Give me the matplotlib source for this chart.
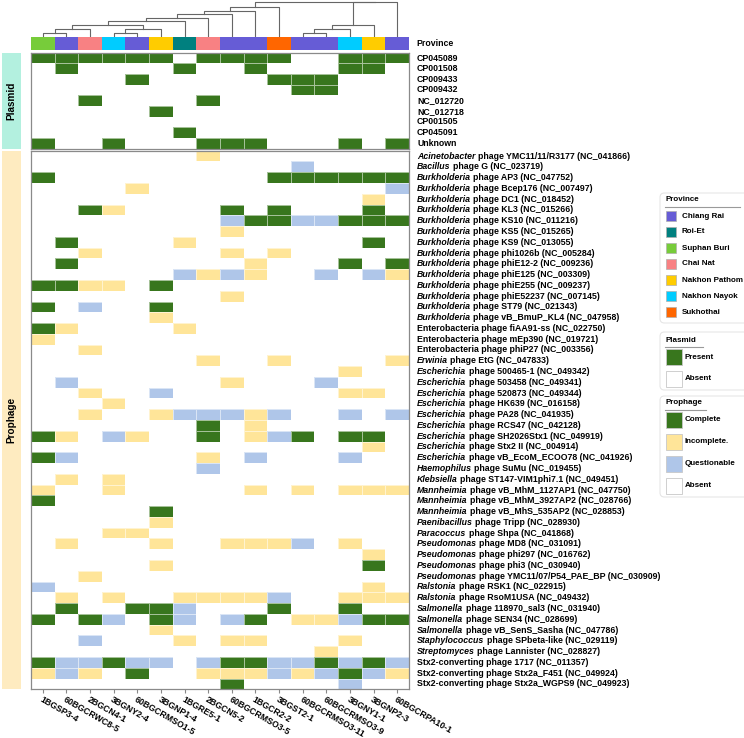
import numpy as np
import matplotlib
matplotlib.use('Agg')
import matplotlib.pyplot as plt
from matplotlib.colors import ListedColormap
from matplotlib.patches import Rectangle, FancyBboxPatch
from matplotlib.lines import Line2D

plt.rcParams['font.family'] = ['Liberation Sans', 'DejaVu Sans']
plt.rcParams['font.weight'] = 'bold'

# ---- data ----
samples = ['1BGSP3-4', '60BGCRWC8-5', '2BGCN4-1', '3BGNY2-4', '60BGCRMSO1-5',
           '3BGNP1-4', '1BGRE5-1', '2BGCN5-2', '60BGCRMSO3-5', '1BGCR2-2',
           '3BGST2-1', '60BGCRMSO3-11', '60BGCRMSO3-9', '3BGNY1-1', '3BGNP2-3',
           '60BGCRPA10-1']
sample_province = ['Suphan Buri', 'Chiang Rai', 'Chai Nat', 'Nakhon Nayok', 'Chiang Rai',
                   'Nakhon Pathom', 'Roi-Et', 'Chai Nat', 'Chiang Rai', 'Chiang Rai',
                   'Sukhothai', 'Chiang Rai', 'Chiang Rai', 'Nakhon Nayok', 'Nakhon Pathom',
                   'Chiang Rai']
province_names = ['Chiang Rai', 'Roi-Et', 'Suphan Buri', 'Chai Nat',
                  'Nakhon Pathom', 'Nakhon Nayok', 'Sukhothai']
province_colors = ['#665cd6', '#00807f', '#77cc3a', '#f88183',
                   '#ffcc00', '#00ccff', '#ff6600']

# dendrogram merges: (left node, right node, height); new nodes numbered from 16
merges = [(0, 1, 3.7), (16, 2, 7.3), (3, 4, 3.7), (18, 5, 7.3), (17, 19, 11.7),
          (20, 6, 15.3), (21, 7, 18.7), (22, 8, 22.7), (23, 9, 26.0), (24, 10, 30.0),
          (11, 12, 3.7), (26, 13, 7.3), (27, 14, 11.7), (28, 15, 34.2), (25, 29, 34.5)]

plasmid_names = ['CP045089', 'CP001508', 'CP009433', 'CP009432', 'NC_012720',
                 'NC_012718', 'CP001505', 'CP045091', 'Unknown']
# P = present, . = absent
plasmid_rows = ['PPPPPP.PPPP..PPP',
                '.P....P..P...PP.',
                '....P.....PPP...',
                '...........PP...',
                '..P....P........',
                '.....P..........',
                '................',
                '......P.........',
                'P..P...PPP...P.P']

prophage_genus = ['Acinetobacter', 'Bacillus'] + ['Burkholderia'] * 14 + [''] * 3 + \
    ['Erwinia'] + ['Escherichia'] * 9 + ['Haemophilus', 'Klebsiella'] + ['Mannheimia'] * 3 + \
    ['Paenibacillus', 'Paracoccus'] + ['Pseudomonas'] * 4 + ['Ralstonia'] * 2 + \
    ['Salmonella'] * 3 + ['Staphylococcus', 'Streptomyces'] + [''] * 3
prophage_rest = ['phage YMC11/11/R3177 (NC_041866)', 'phage G (NC_023719)',
                 'phage AP3 (NC_047752)', 'phage Bcep176 (NC_007497)', 'phage DC1 (NC_018452)',
                 'phage KL3 (NC_015266)', 'phage KS10 (NC_011216)', 'phage KS5 (NC_015265)',
                 'phage KS9 (NC_013055)', 'phage phi1026b (NC_005284)',
                 'phage phiE12-2 (NC_009236)', 'phage phiE125 (NC_003309)',
                 'phage phiE255 (NC_009237)', 'phage phiE52237 (NC_007145)',
                 'phage ST79 (NC_021343)', 'phage vB_BmuP_KL4 (NC_047958)',
                 'Enterobacteria phage fiAA91-ss (NC_022750)',
                 'Enterobacteria phage mEp390 (NC_019721)',
                 'Enterobacteria phage phiP27 (NC_003356)',
                 'phage EtG (NC_047833)', 'phage 500465-1 (NC_049342)',
                 'phage 503458 (NC_049341)', 'phage 520873 (NC_049344)',
                 'phage HK639 (NC_016158)', 'phage PA28 (NC_041935)',
                 'phage RCS47 (NC_042128)', 'phage SH2026Stx1 (NC_049919)',
                 'phage Stx2 II (NC_004914)', 'phage vB_EcoM_ECOO78 (NC_041926)',
                 'phage SuMu (NC_019455)', 'phage ST147-VIM1phi7.1 (NC_049451)',
                 'phage vB_MhM_1127AP1 (NC_047750)', 'phage vB_MhM_3927AP2 (NC_028766)',
                 'phage vB_MhS_535AP2 (NC_028853)', 'phage Tripp (NC_028930)',
                 'phage Shpa (NC_041868)', 'phage MD8 (NC_031091)',
                 'phage phi297 (NC_016762)', 'phage phi3 (NC_030940)',
                 'phage YMC11/07/P54_PAE_BP (NC_030909)', 'phage RSK1 (NC_022915)',
                 'phage RsoM1USA (NC_049432)', 'phage 118970_sal3 (NC_031940)',
                 'phage SEN34 (NC_028699)', 'phage vB_SenS_Sasha (NC_047786)',
                 'phage SPbeta-like (NC_029119)', 'phage Lannister (NC_028827)',
                 'Stx2-converting phage 1717 (NC_011357)',
                 'Stx2-converting phage Stx2a_F451 (NC_049924)',
                 'Stx2-converting phage Stx2a_WGPS9 (NC_049923)']
# C = complete, I = incomplete, Q = questionable, . = absent
prophage_rows = ['.......I........', '...........Q....', 'C.........CCCCCC',
                 '....I..........Q', '..............I.', '..CI....C.C...C.',
                 '........QCCQQCCC', '........I.......', '.C....I.......C.',
                 '..I.....I.I.....', '.C.......I...C.C', '......QIQI..Q.QI',
                 'CCII.C..........', '........I.......', 'C.Q..C..........',
                 '.....I..........', 'CI....I.........', 'I...............',
                 '..I.............', '.......I..I....I', '.............I..',
                 '.Q......I...Q...', '..I..Q.......II.', '...I............',
                 '..I..IQQQIQ..Q.Q', '.......C.I......', 'CI.QI..C.IQC.CC.',
                 '..............I.', 'CQ.....I.Q...Q..', '.......Q........',
                 '.I.I............', 'I..I.....I.I.III', 'C...............',
                 '.....C..........', '.....I..........', '...II...........',
                 '.I...I..IIIQ.I..', '..............I.', '.....I........C.',
                 '..I.............', 'Q.............I.', '.I.I..IIIIQ..III',
                 '.C..CCQ...C..C..', 'C.CQ.CQ.QC.IIQCC', '.....I..........',
                 '..Q...I.II...I..', '............I...', 'CQQCQQ.QCCQQCQCQ',
                 'IQI.C..IIIQIQCQI', '........C....Q..']

green, yellow, blue = '#38761d', '#ffe599', '#afc6e9'
code = {'.': 0, 'P': 1, 'C': 1, 'I': 2, 'Q': 3}
cell_cmap = ListedColormap(['white', green, yellow, blue])

W, H = 744, 738
fig = plt.figure(figsize=(W / 100, H / 100), dpi=100)


def box(x0, y0, x1, y1):
    return [x0 / W, 1 - y1 / H, (x1 - x0) / W, (y1 - y0) / H]


def rect(x0, y0, x1, y1, **kw):
    fig.add_artist(Rectangle((x0 / W, 1 - y1 / H), (x1 - x0) / W, (y1 - y0) / H,
                             transform=fig.transFigure, **kw))


fs = 6.3
lfs = 5.8
ncol = len(samples)
X0, X1 = 31, 409

# ---- dendrogram ----
axd = fig.add_axes(box(X0, 0, X1, 36.5))
pos = {i: i + 0.5 for i in range(ncol)}
hgt = {i: 0.0 for i in range(ncol)}
for k, (a, b, h) in enumerate(merges):
    xa, xb = pos[a], pos[b]
    axd.plot([xa, xa, xb, xb], [hgt[a], h, h, hgt[b]], color='#666666', lw=0.8)
    pos[ncol + k] = (xa + xb) / 2
    hgt[ncol + k] = h
axd.set_xlim(0, ncol)
axd.set_ylim(0, 36.5)
axd.axis('off')

# ---- province bar ----
axb = fig.add_axes(box(X0, 36.7, X1, 49.5))
prov_idx = np.array([[province_names.index(p) for p in sample_province]])
axb.pcolormesh(np.arange(ncol + 1), [0, 1], prov_idx, cmap=ListedColormap(province_colors),
               vmin=-0.5, vmax=len(province_names) - 0.5)
axb.set_xlim(0, ncol)
axb.axis('off')
fig.text(416 / W, 1 - 43.5 / H, 'Province', fontsize=fs, va='center', ha='left')


# ---- heatmaps ----
def heat(y0, y1, rows):
    ax = fig.add_axes(box(X0, y0, X1, y1))
    m = np.array([[code[c] for c in r] for r in rows])
    ax.pcolormesh(np.arange(ncol + 1), np.arange(len(rows) + 1), m, cmap=cell_cmap,
                  vmin=-0.5, vmax=3.5, edgecolors=(1, 1, 1, 0.55), linewidth=0.5)
    ax.set_xlim(0, ncol)
    ax.set_ylim(len(rows), 0)
    ax.set_yticks([])
    for s in ax.spines.values():
        s.set_color('#8a8a8a')
        s.set_linewidth(0.9)
    return ax


def row_label(ax, i, genus, rest):
    kw = dict(fontsize=fs, fontweight='bold', clip_on=False)
    x = ncol + 0.34
    if genus:
        t = ax.text(x, i + 0.5, genus, style='italic', va='center', ha='left', **kw)
        ax.annotate(rest, xy=(1, 0), xycoords=t, xytext=(1.7, 0), textcoords='offset points',
                    va='bottom', ha='left', **kw)
    else:
        ax.text(x, i + 0.5, rest, va='center', ha='left', **kw)


axp = heat(52.7, 148.5, plasmid_rows)
axp.set_xticks([])
for i, name in enumerate(plasmid_names):
    row_label(axp, i, '', name)

axq = heat(150.7, 689.3, prophage_rows)
for i, (g, r) in enumerate(zip(prophage_genus, prophage_rest)):
    row_label(axq, i, g, r)
axq.set_xticks(np.arange(ncol) + 0.5)
axq.set_xticklabels(samples, rotation=-30, ha='left', va='top', rotation_mode='anchor',
                    fontsize=fs, fontweight='bold')
axq.tick_params(axis='x', length=3, color='#888888', pad=1)

# ---- side group bars ----
rect(1.5, 52.7, 21, 148.5, facecolor='#b3f0df', edgecolor='none')
rect(1.5, 150.7, 21, 689.3, facecolor='#feebc0', edgecolor='none')
fig.text(11.5 / W, 1 - 100.6 / H, 'Plasmid', rotation=90, fontsize=7.2,
         ha='center', va='center')
fig.text(11.5 / W, 1 - 420 / H, 'Prophage', rotation=90, fontsize=7.2,
         ha='center', va='center')


# ---- legends ----
def legend_frame(y0, y1):
    fig.add_artist(FancyBboxPatch((660 / W, 1 - y1 / H), 100 / W, (y1 - y0) / H,
                                  boxstyle='round,pad=0,rounding_size=0.006',
                                  transform=fig.transFigure, facecolor='none',
                                  edgecolor='#e6e6e6', lw=0.8))


def legend_title(y, text, x_end):
    fig.text(665 / W, 1 - y / H, text, fontsize=lfs, va='center', ha='left')
    fig.add_artist(Line2D([665 / W, x_end / W], [1 - (y + 6.5) / H] * 2,
                          transform=fig.transFigure, color='#9a9a9a', lw=0.8))


legend_frame(193, 323)
legend_title(200, 'Province', 740)
for i, (name, col) in enumerate(zip(province_names, province_colors)):
    yc = 216 + 16 * i
    rect(666, yc - 5.3, 676, yc + 5.3, facecolor=col, edgecolor='#b0b0b0', lw=0.5)
    fig.text(681.5 / W, 1 - yc / H, name, fontsize=lfs, va='center', ha='left')

legend_frame(332, 390)
legend_title(340, 'Plasmid', 703)
for i, (name, col) in enumerate(zip(['Present', 'Absent'], [green, 'white'])):
    yc = 357.5 + 21.5 * i
    rect(665.5, yc - 8, 681.5, yc + 8, facecolor=col, edgecolor='#c8c8c8', lw=0.6)
    fig.text(684.5 / W, 1 - yc / H, name, fontsize=lfs, va='center', ha='left')

legend_frame(396, 497)
legend_title(403, 'Prophage', 706)
for i, (name, col) in enumerate(zip(['Complete', 'Incomplete.', 'Questionable', 'Absent'],
                                    [green, yellow, blue, 'white'])):
    yc = 419.7 + 22 * i
    rect(665.5, yc - 8, 681.5, yc + 8, facecolor=col, edgecolor='#c8c8c8', lw=0.6)
    fig.text(684.5 / W, 1 - yc / H, name, fontsize=lfs, va='center', ha='left')

fig.savefig('out.png', dpi=100)
